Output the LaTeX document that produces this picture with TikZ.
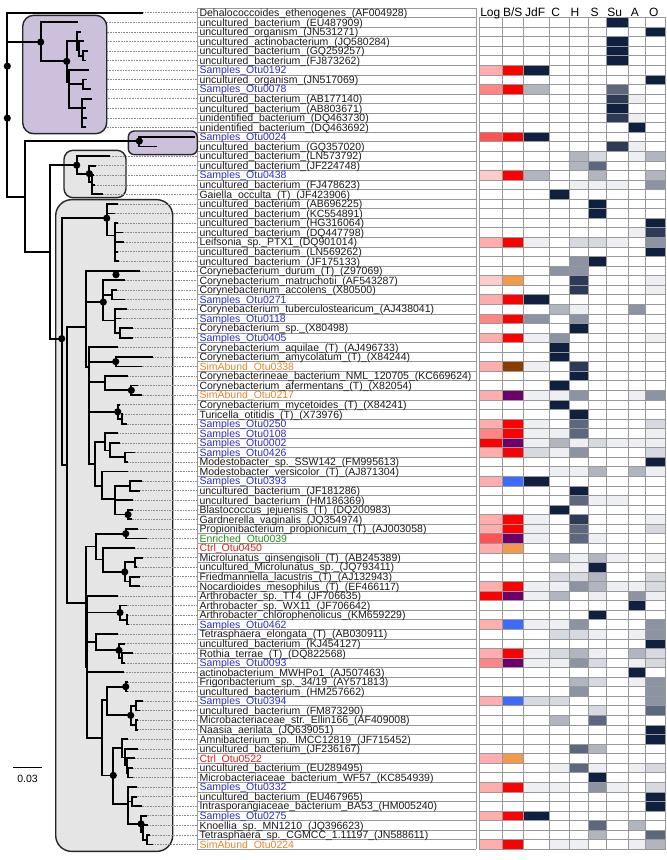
\documentclass[tikz,border=0pt]{standalone}
\usepackage{fontspec}
\setmainfont{Liberation Sans}
\definecolor{navy}{RGB}{16,32,64}
\colorlet{h1}{navy!7}
\colorlet{h2}{navy!17}
\colorlet{h3}{navy!33}
\colorlet{h4}{navy!48}
\colorlet{h5}{navy!68}
\colorlet{h6}{navy!88}
\colorlet{h7}{navy}
\colorlet{lp1}{red!20}
\colorlet{lp2}{red!32}
\colorlet{lp3}{red!48}
\colorlet{lp4}{red!68}
\colorlet{lp5}{red}
\definecolor{bsr}{RGB}{255,0,0}
\definecolor{bso}{RGB}{242,153,74}
\definecolor{bsb}{RGB}{139,62,0}
\definecolor{bsp}{RGB}{108,0,108}
\definecolor{bsu}{RGB}{61,107,255}
\definecolor{lk}{RGB}{26,26,26}
\definecolor{ls}{RGB}{45,45,200}
\definecolor{lo}{RGB}{232,134,42}
\definecolor{lr}{RGB}{224,32,30}
\definecolor{lg}{RGB}{31,143,31}
\definecolor{lav}{RGB}{205,192,221}
\definecolor{boxgrey}{RGB}{229,229,229}
\tikzset{
  branch/.style={line width=1.8pt},
  leader/.style={black!45, line width=0.5pt, dash pattern=on 0.6pt off 1pt},
  cellline/.style={black!40, line width=0.6pt},
  lbl/.style={anchor=west, inner xsep=2pt, inner ysep=0pt, text height=7.6pt, text depth=0pt, font=\fontsize{10.5}{11}\selectfont},
  hdr/.style={inner sep=0pt, text height=8.6pt, text depth=0pt, font=\fontsize{12}{13}\selectfont},
  clade/.style={draw=black!85, line width=1.4pt},
}
\def\colx{{479.3,502,523.7,549.3,569.7,588.7,606.7,628,645.3,665.5}}
\begin{document}
\begin{tikzpicture}[x=1pt, y=-9.56pt]
\useasboundingbox (0,-0.324) rectangle (666,89.63);
% grey clade boxes
\draw[clade, fill=boxgrey, rounded corners=9pt] (64,15.4) rectangle (126,20.35);
\draw[clade, fill=boxgrey, rounded corners=16pt] (55.7,20.56) rectangle (172.7,88.73);
% tips (row / x)
\foreach \r/\x in {1/143.3, 2/78.3, 3/81, 4/84, 5/88, 6/86, 7/89.3, 8/87.3, 9/90.7, 10/91.7,
  11/86, 12/87.3, 13/86, 14/195, 15/157.3, 16/110, 17/96, 18/94, 19/95, 20/103.3,
  21/118.3, 22/115, 23/118.3, 24/123.3, 25/124, 26/118.3, 27/119.3, 28/140, 29/125, 30/116.7,
  31/125, 32/126.7, 33/121, 34/133.3, 35/133.3, 36/118.3, 37/153.3, 38/141.7, 39/128.3, 40/138.3,
  41/141.7, 42/120, 43/123, 44/126.7, 45/118.3, 46/120, 47/135, 48/128.3, 49/128.3, 50/141.7,
  51/140, 52/133.3, 53/133.3, 54/131.7, 55/138.3, 56/146.7, 57/135, 58/143.3, 59/136.7, 60/140,
  61/140, 62/118.3, 63/126.7, 64/128.3, 65/129.3, 66/118.3, 67/125, 68/133.3, 69/125, 70/124,
  71/128.3, 72/128.3, 73/143.3, 74/140, 75/138.3, 76/138.3, 77/128.3, 78/138.3, 79/135, 80/133.3,
  81/132.7, 82/136.7, 83/136.7, 84/141.7, 85/146.7, 86/148.3, 87/150, 88/153.3}
  \coordinate (t\r) at (\x,\r);
% label table
\foreach \r in {0.5,1.5,...,88.5}
  \draw[cellline] (197.3,\r) -- (476,\r);
\draw[cellline] (197.3,0.5) -- (197.3,88.5) (476,0.5) -- (476,88.5);
% labels
\foreach \r/\c/\t in {1/lk/Dehalococcoides\_ethenogenes\_(AF004928),
  2/lk/uncultured\_bacterium\_(EU487909), 3/lk/uncultured\_organism\_(JN531271),
  4/lk/uncultured\_actinobacterium\_(JQ580284), 5/lk/uncultured\_bacterium\_(GQ259257),
  6/lk/uncultured\_bacterium\_(FJ873262), 7/ls/Samples\_Otu0192,
  8/lk/uncultured\_organism\_(JN517069), 9/ls/Samples\_Otu0078,
  10/lk/uncultured\_bacterium\_(AB177140), 11/lk/uncultured\_bacterium\_(AB803671),
  12/lk/unidentified\_bacterium\_(DQ463730), 13/lk/unidentified\_bacterium\_(DQ463692),
  14/ls/Samples\_Otu0024, 15/lk/uncultured\_bacterium\_(GQ357020),
  16/lk/uncultured\_bacterium\_(LN573792), 17/lk/uncultured\_bacterium\_(JF224748),
  18/ls/Samples\_Otu0438, 19/lk/uncultured\_bacterium\_(FJ478623),
  20/lk/Gaiella\_occulta\_(T)\_(JF423906), 21/lk/uncultured\_bacterium\_(AB696225),
  22/lk/uncultured\_bacterium\_(KC554891), 23/lk/uncultured\_bacterium\_(HG316064),
  24/lk/uncultured\_bacterium\_(DQ447798), 25/lk/Leifsonia\_sp.\_PTX1\_(DQ901014),
  26/lk/uncultured\_bacterium\_(LN569262), 27/lk/uncultured\_bacterium\_(JF175133),
  28/lk/Corynebacterium\_durum\_(T)\_(Z97069), 29/lk/Corynebacterium\_matruchotii\_(AF543287),
  30/lk/Corynebacterium\_accolens\_(X80500), 31/ls/Samples\_Otu0271,
  32/lk/Corynebacterium\_tuberculostearicum\_(AJ438041), 33/ls/Samples\_Otu0118,
  34/lk/Corynebacterium\_sp.\_(X80498), 35/ls/Samples\_Otu0405,
  36/lk/Corynebacterium\_aquilae\_(T)\_(AJ496733), 37/lk/Corynebacterium\_amycolatum\_(T)\_(X84244),
  38/lo/SimAbund\_Otu0338, 39/lk/Corynebacterineae\_bacterium\_NML\_120705\_(KC669624),
  40/lk/Corynebacterium\_afermentans\_(T)\_(X82054), 41/lo/SimAbund\_Otu0217,
  42/lk/Corynebacterium\_mycetoides\_(T)\_(X84241), 43/lk/Turicella\_otitidis\_(T)\_(X73976),
  44/ls/Samples\_Otu0250, 45/ls/Samples\_Otu0108, 46/ls/Samples\_Otu0002, 47/ls/Samples\_Otu0426,
  48/lk/Modestobacter\_sp.\_SSW142\_(FM995613), 49/lk/Modestobacter\_versicolor\_(T)\_(AJ871304),
  50/ls/Samples\_Otu0393, 51/lk/uncultured\_bacterium\_(JF181286),
  52/lk/uncultured\_bacterium\_(HM186369), 53/lk/Blastococcus\_jejuensis\_(T)\_(DQ200983),
  54/lk/Gardnerella\_vaginalis\_(JQ354974), 55/lk/Propionibacterium\_propionicum\_(T)\_(AJ003058),
  56/lg/Enriched\_Otu0039, 57/lr/Ctrl\_Otu0450,
  58/lk/Microlunatus\_ginsengisoli\_(T)\_(AB245389), 59/lk/uncultured\_Microlunatus\_sp.\_(JQ793411),
  60/lk/Friedmanniella\_lacustris\_(T)\_(AJ132943), 61/lk/Nocardioides\_mesophilus\_(T)\_(EF466117),
  62/lk/Arthrobacter\_sp.\_TT4\_(JF706635), 63/lk/Arthrobacter\_sp.\_WX11\_(JF706642),
  64/lk/Arthrobacter\_chlorophenolicus\_(KM659229), 65/ls/Samples\_Otu0462,
  66/lk/Tetrasphaera\_elongata\_(T)\_(AB030911), 67/lk/uncultured\_bacterium\_(KJ454127),
  68/lk/Rothia\_terrae\_(T)\_(DQ822568), 69/ls/Samples\_Otu0093,
  70/lk/actinobacterium\_MWHPo1\_(AJ507463), 71/lk/{Frigoribacterium\_sp.\_34/19\_(AY571813)},
  72/lk/uncultured\_bacterium\_(HM257662), 73/ls/Samples\_Otu0394,
  74/lk/uncultured\_bacterium\_(FM873290), 75/lk/Microbacteriaceae\_str.\_Ellin166\_(AF409008),
  76/lk/Naasia\_aerilata\_(JQ639051), 77/lk/Amnibacterium\_sp.\_IMCC12819\_(JF715452),
  78/lk/uncultured\_bacterium\_(JF236167), 79/lr/Ctrl\_Otu0522,
  80/lk/uncultured\_bacterium\_(EU289495), 81/lk/Microbacteriaceae\_bacterium\_WF57\_(KC854939),
  82/ls/Samples\_Otu0332, 83/lk/uncultured\_bacterium\_(EU467965),
  84/lk/Intrasporangiaceae\_bacterium\_BA53\_(HM005240), 85/ls/Samples\_Otu0275,
  86/lk/Knoellia\_sp.\_MN1210\_(JQ396623), 87/lk/Tetrasphaera\_sp.\_CGMCC\_1.11197\_(JN588611),
  88/lo/SimAbund\_Otu0224}
  \node[lbl, text=\c] (l\r) at (197.3,\r) {\t};
% dotted leaders
\foreach \r in {1,...,88}
  \draw[leader] (t\r) -- (l\r.west);
% purple clade boxes
\draw[clade, fill=lav, rounded corners=11pt] (22.7,1.28) rectangle (106.7,13.66);
\draw[clade, fill=lav, rounded corners=6pt] (128.3,13.38) rectangle (197.3,15.85);
% heatmap cells (row / column / colour)
\foreach \r/\c/\k in {2/7/h7, 3/9/h7, 4/7/h7, 5/7/h7, 6/7/h7,
  7/1/lp2, 7/2/bsr, 7/3/h7, 8/9/h7, 9/1/lp3, 9/2/bsr, 9/3/h3, 9/7/h5,
  10/7/h6, 10/8/h1, 11/7/h7, 12/7/h6, 12/8/h1, 13/8/h7,
  14/1/lp4, 14/2/bsr, 14/3/h7, 15/7/h6, 15/8/h1,
  16/5/h3, 16/6/h2, 16/8/h1, 16/9/h3, 17/5/h3, 17/6/h5,
  18/1/lp1, 18/2/bsr, 18/3/h3, 18/6/h3, 18/9/h3,
  19/5/h1, 19/6/h1, 19/7/h1, 19/9/h4, 20/4/h7, 21/6/h7, 22/6/h7, 23/9/h7,
  24/8/h1, 24/9/h6,
  25/1/lp2, 25/2/bsr, 25/3/h1, 25/5/h2, 25/6/h2, 25/7/h1, 25/9/h4,
  26/9/h7, 27/5/h4, 27/6/h7, 28/4/h4, 28/5/h4,
  29/1/lp1, 29/2/bso, 29/5/h6, 29/9/h1, 30/5/h6, 30/9/h1,
  31/1/lp2, 31/2/bsr, 31/3/h7, 32/4/h3, 32/5/h1, 32/8/h4,
  33/1/lp3, 33/2/bsr, 33/3/h4, 33/5/h4, 34/5/h7,
  35/1/lp2, 35/2/bsr, 35/3/h1, 35/4/h4, 35/9/h1, 36/4/h7, 37/4/h7,
  38/1/lp2, 38/2/bsb, 38/3/h1, 38/5/h6, 39/5/h7, 40/4/h7,
  41/1/lp2, 41/2/bsp, 41/3/h1, 41/4/h1, 41/5/h4, 41/8/h1, 41/9/h4,
  42/4/h7, 43/5/h7,
  44/1/lp2, 44/2/bsr, 44/3/h1, 44/5/h5, 44/9/h2,
  45/1/lp3, 45/2/bsr, 45/3/h1, 45/4/h1, 45/5/h5, 45/9/h1,
  46/1/lp5, 46/2/bsp, 46/3/h1, 46/4/h3, 46/5/h1, 46/6/h2, 46/7/h1, 46/8/h1, 46/9/h1,
  47/1/lp2, 47/2/bsr, 47/3/h2, 47/4/h1, 47/5/h4, 47/9/h2, 48/9/h7,
  49/4/h1, 49/5/h1, 49/6/h3, 49/8/h3, 49/9/h1,
  50/1/lp2, 50/2/bsu, 50/3/h7, 51/5/h7, 52/5/h5, 52/6/h1, 52/7/h1, 53/4/h7,
  54/1/lp2, 54/2/bsr, 54/3/h1, 54/5/h6, 54/9/h1,
  55/1/lp2, 55/2/bsr, 55/3/h1, 55/5/h5, 55/9/h2,
  56/1/lp4, 56/2/bsp, 56/3/h1, 56/5/h5, 56/6/h1, 57/1/lp2, 57/2/bso,
  58/4/h3, 58/5/h1, 58/6/h3, 58/7/h1, 58/9/h1, 59/5/h1, 59/6/h7,
  60/4/h2, 60/5/h2, 60/6/h3, 60/9/h2,
  61/1/lp2, 61/2/bsr, 61/3/h1, 61/4/h1, 61/5/h4, 61/6/h3, 61/7/h1, 61/8/h1, 61/9/h2,
  62/1/lp5, 62/2/bsp, 62/3/h1, 62/4/h3, 62/6/h1, 62/8/h4, 62/9/h1,
  63/8/h7, 64/6/h7,
  65/1/lp2, 65/2/bsu, 65/3/h1, 65/4/h1, 65/5/h4, 65/9/h4,
  66/4/h2, 66/5/h2, 66/6/h1, 66/8/h1, 66/9/h4, 67/9/h7,
  68/1/lp2, 68/2/bsr, 68/3/h1, 68/4/h2, 68/5/h3, 68/6/h1, 68/8/h3, 68/9/h2,
  69/1/lp3, 69/2/bsp, 69/3/h1, 69/4/h1, 69/5/h4, 69/6/h2, 69/8/h1, 69/9/h2,
  70/8/h7, 71/5/h3, 71/6/h2, 71/8/h1, 71/9/h4, 72/5/h4, 72/9/h4,
  73/1/lp2, 73/2/bsu, 73/3/h2, 73/4/h2, 73/9/h4,
  74/6/h2, 74/9/h5, 75/4/h3, 75/6/h5, 76/9/h7, 77/9/h7, 78/5/h5, 78/6/h3,
  79/1/lp2, 79/2/bso, 80/4/h1, 80/5/h5, 80/6/h1, 80/8/h1, 80/9/h2, 81/6/h7,
  82/1/lp2, 82/2/bsr, 82/3/h1, 82/4/h1, 82/6/h4, 82/7/h1, 82/9/h2,
  83/9/h7, 84/9/h7, 85/1/lp2, 85/2/bsr, 85/3/h7,
  86/6/h5, 86/8/h3, 87/6/h3, 87/9/h5,
  88/1/lp2, 88/2/bsr, 88/4/h1, 88/5/h1, 88/8/h1, 88/9/h3} {
  \pgfmathsetmacro\xl{\colx[\c-1]}
  \pgfmathsetmacro\xr{\colx[\c]}
  \fill[\k] (\xl,\r-0.5) rectangle (\xr,\r+0.5);
}
\foreach \r in {1.5,2.5,...,88.5}
  \draw[cellline] (479.3,\r) -- (665.5,\r);
\foreach \x in {479.3,502,523.7,549.3,569.7,588.7,606.7,628,645.3,665.5}
  \draw[cellline] (\x,1.5) -- (\x,88.5);
% column heads
\node[hdr] (hLog) at (490.3,1) {Log};
\node[hdr] (hBS) at (512.8,1) {B/S};
\node[hdr] (hJdF) at (535.2,1) {JdF};
\node[hdr] (hC) at (555.8,1) {C};
\node[hdr] (hH) at (575,1) {H};
\node[hdr] (hS) at (594.5,1) {S};
\node[hdr] (hSu) at (614.7,1) {Su};
\node[hdr] (hA) at (634.8,1) {A};
\node[hdr] (hO) at (653.7,1) {O};
% inner nodes of the tree
\coordinate (n0) at (7.3,6.59);    \coordinate (d12) at (7.3,12.03);
\coordinate (nP) at (40.7,4.07);   \coordinate (nP1) at (66.7,6.09);
\coordinate (nP2) at (77.3,3.95);  \coordinate (nP2a) at (79,4.9);
\coordinate (nP2b) at (83,5.5);    \coordinate (nP3) at (69,8.3);
\coordinate (nP3a) at (83.3,8.5);  \coordinate (nP3b) at (81.7,11);
\coordinate (nB) at (25,20.29);    \coordinate (nQ) at (139.3,14.43);
\coordinate (nC) at (50,26.04);    \coordinate (nS) at (76.7,16.95);
\coordinate (nS1) at (89.3,17.84); \coordinate (nS2) at (92,18.7);
\coordinate (nG) at (61.7,35.1);   \coordinate (nT) at (106.7,22.5);
\coordinate (nT2) at (115,24.3);   \coordinate (nH) at (66.7,48.3);
\coordinate (nI) at (86,33.9);     \coordinate (d28) at (116,28.41);
\coordinate (nK) at (103.3,31.27); \coordinate (nK1) at (111.7,30.5);
\coordinate (nK2) at (115,33.2);   \coordinate (nK3) at (120,34.5);
\coordinate (nL) at (89.3,38.07);  \coordinate (nM) at (115.7,37.5);
\coordinate (nN) at (105,39.64);   \coordinate (nN1) at (131.3,40.5);
\coordinate (nO) at (117.7,42.75); \coordinate (nO1) at (121.7,43.5);
\coordinate (nR) at (95,48.2);     \coordinate (nR1) at (105,45.9);
\coordinate (nR1a) at (110,46.8);  \coordinate (nR1b) at (125,47.5);
\coordinate (nR2) at (101.7,50.5); \coordinate (nR3) at (115,51.9);
\coordinate (nR4) at (130,50.5);   \coordinate (nR5) at (128,53.5);
\coordinate (nJ) at (86,62.76);    \coordinate (nV) at (96,56.83);
\coordinate (nV1) at (125.7,55.5); \coordinate (nV2) at (103.3,58.2);
\coordinate (nV3) at (124.7,59.5); \coordinate (nV4) at (135,58.5);
\coordinate (nV5) at (130,60.5);   \coordinate (nW) at (87.3,69.5);
\coordinate (nX) at (120,63.75);   \coordinate (nX1) at (126.7,64.5);
\coordinate (nY) at (96,66.85);    \coordinate (nY1) at (119,67.7);
\coordinate (nY2) at (121.7,68.5); \coordinate (nZ) at (101.7,76.9);
\coordinate (nZ1) at (106.7,72.93);\coordinate (nZ2) at (113.3,80.78);
\coordinate (nZ3) at (125.7,71.5); \coordinate (nZ4) at (130.7,74.5);
\coordinate (nZ5) at (136,73.5);   \coordinate (nZ6) at (136,75.5);
\coordinate (nZ7) at (121.7,77.95);\coordinate (nZ8) at (128.3,83.74);
\coordinate (nZ9) at (125,78.9);   \coordinate (nZ10) at (127,79.75);
\coordinate (nZ11) at (128.3,80.5);\coordinate (nZ12) at (131.7,83.5);
\coordinate (nZ13) at (141,85.85); \coordinate (nZ14) at (143.3,86.7);
\coordinate (nZ15) at (146.7,87.5);
% branches
\foreach \a/\b in {n0/t1, n0/nP, n0/nB,
  nP/t2, nP/nP1, nP1/nP2, nP1/nP3, nP2/t3, nP2/nP2a, nP2a/t4, nP2a/nP2b, nP2b/t5, nP2b/t6,
  nP3/t7, nP3/nP3a, nP3/nP3b, nP3a/t8, nP3a/t9, nP3b/t10, nP3b/t11, nP3b/t12, nP3b/t13,
  nB/nQ, nB/nC, nQ/t14, nQ/t15,
  nC/nS, nC/nG, nS/t16, nS/nS1, nS1/t17, nS1/nS2, nS2/t18, nS2/t19, nS2/t20,
  nG/nT, nG/nH, nT/t21, nT/t22, nT/nT2, nT2/t23, nT2/t24, nT2/t25, nT2/t26, nT2/t27,
  nH/nI, nH/nJ, nI/t28, nI/nK, nI/nL,
  nK/t29, nK/nK1, nK/nK2, nK1/t30, nK1/t31, nK2/t32, nK2/t33, nK2/nK3, nK3/t34, nK3/t35,
  nL/t36, nL/nM, nL/nN, nL/nO, nL/nR, nM/t37, nM/t38, nN/t39, nN/nN1, nN1/t40, nN1/t41,
  nO/t42, nO/nO1, nO1/t43, nO1/t44,
  nR/nR1, nR/nR2, nR1/t45, nR1/nR1a, nR1a/t46, nR1a/nR1b, nR1b/t47, nR1b/t48,
  nR2/t49, nR2/nR3, nR3/nR4, nR3/t52, nR3/nR5, nR4/t50, nR4/t51, nR5/t53, nR5/t54,
  nJ/nV, nJ/nW, nV/nV1, nV/nV2, nV1/t55, nV1/t56, nV2/t57, nV2/nV3, nV3/nV4, nV3/nV5,
  nV4/t58, nV4/t59, nV5/t60, nV5/t61,
  nW/t62, nW/nX, nW/nY, nW/t70, nW/nZ, nX/t63, nX/nX1, nX1/t64, nX1/t65,
  nY/t66, nY/nY1, nY1/t67, nY1/nY2, nY2/t68, nY2/t69,
  nZ/nZ1, nZ/nZ2, nZ1/nZ3, nZ1/nZ4, nZ3/t71, nZ3/t72, nZ4/nZ5, nZ4/nZ6,
  nZ5/t73, nZ5/t74, nZ6/t75, nZ6/t76,
  nZ2/nZ7, nZ2/nZ8, nZ7/t77, nZ7/nZ9, nZ9/t78, nZ9/nZ10, nZ10/t79, nZ10/nZ11, nZ11/t80, nZ11/t81,
  nZ8/t82, nZ8/nZ12, nZ8/nZ13, nZ12/t83, nZ12/t84, nZ13/t85, nZ13/nZ14, nZ14/t86, nZ14/nZ15,
  nZ15/t87, nZ15/t88}
  \draw[branch] (\a) |- (\b);
% support dots
\foreach \n in {n0, d12, nP, nP1, nQ, nS, nS1, nT, d28, nK, nG, nM, nN1, nO, nR5,
  nV1, nV3, nX, nY1, nZ3, nZ4, nZ2, nZ13}
  \fill (\n) circle (3.6pt);
% scale bar
\coordinate (sbA) at (13,79.91);
\coordinate (sbB) at (42,79.91);
\draw[line width=0.9pt] (sbA) -- (sbB);
\node[font=\fontsize{10.5}{11}\selectfont, inner sep=0pt] (sbl) at (27.5,81.1) {0.03};
\end{tikzpicture}
\end{document}
